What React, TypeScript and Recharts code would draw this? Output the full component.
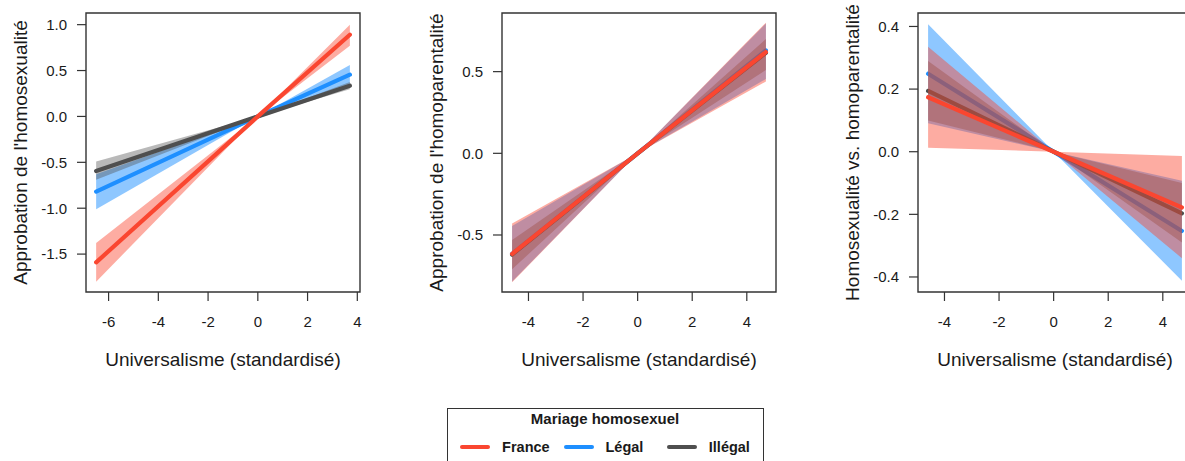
import React from 'react'
import {
  Area,
  ComposedChart,
  Label,
  Line,
  ReferenceArea,
  XAxis,
  YAxis,
} from 'recharts'

const FONT = '"Liberation Sans", Arial, Helvetica, sans-serif'
const RED = '#FA4630'
const BLUE = '#1E8FFF'
const GREY = '#4F4F4F'
const INK = '#1a1a1a'
const FRAME = '#333333'

// ---- panel 1 : Approbation de l'homosexualité
const p1X = [-6.5, 0, 3.7]
const p1France = [-1.59, 0, 0.89]
const p1FranceLo = [-1.8, 0, 0.77]
const p1FranceHi = [-1.38, 0, 1.0]
const p1Legal = [-0.82, 0, 0.455]
const p1LegalLo = [-1.01, 0, 0.35]
const p1LegalHi = [-0.63, 0, 0.56]
const p1Illegal = [-0.595, 0, 0.335]
const p1IllegalLo = [-0.69, 0, 0.295]
const p1IllegalHi = [-0.49, 0, 0.375]
const p1XTicks = [-6, -4, -2, 0, 2, 4]
const p1YTicks = [-1.5, -1, -0.5, 0, 0.5, 1]
const p1XLim = [-6.908, 4.108]
const p1YLim = [-1.913, 1.127]

// ---- panel 2 : Approbation de l'homoparentalité
const p2X = [-4.6, 0, 4.7]
const p2France = [-0.615, 0, 0.62]
const p2FranceLo = [-0.79, 0, 0.44]
const p2FranceHi = [-0.43, 0, 0.8]
const p2Legal = [-0.615, 0, 0.63]
const p2LegalLo = [-0.785, 0, 0.455]
const p2LegalHi = [-0.445, 0, 0.795]
const p2Illegal = [-0.62, 0, 0.615]
const p2IllegalLo = [-0.71, 0, 0.51]
const p2IllegalHi = [-0.53, 0, 0.7]
const p2XTicks = [-4, -2, 0, 2, 4]
const p2YTicks = [-0.5, 0, 0.5]
const p2XLim = [-4.97, 5.07]
const p2YLim = [-0.849, 0.859]

// ---- panel 3 : Homosexualité vs. homoparentalité
const p3X = [-4.6, 0, 4.7]
const p3France = [0.174, 0, -0.178]
const p3FranceLo = [0.013, 0, -0.34]
const p3FranceHi = [0.335, 0, -0.014]
const p3Legal = [0.249, 0, -0.253]
const p3LegalLo = [0.091, 0, -0.412]
const p3LegalHi = [0.407, 0, -0.093]
const p3Illegal = [0.194, 0, -0.197]
const p3IllegalLo = [0.1, 0, -0.29]
const p3IllegalHi = [0.29, 0, -0.1]
const p3XTicks = [-4, -2, 0, 2, 4]
const p3YTicks = [-0.4, -0.2, 0, 0.2, 0.4]
const p3XLim = [-4.97, 5.07]
const p3YLim = [-0.448, 0.443]

const legendItems = [
  { name: 'France', color: RED },
  { name: 'Légal', color: BLUE },
  { name: 'Illégal', color: GREY },
]

type Row = {
  x: number
  france: number
  franceBand: [number, number]
  legal: number
  legalBand: [number, number]
  illegal: number
  illegalBand: [number, number]
}

function buildRows(
  xs: number[],
  fr: number[], frLo: number[], frHi: number[],
  lg: number[], lgLo: number[], lgHi: number[],
  il: number[], ilLo: number[], ilHi: number[],
): Row[] {
  return xs.map((x, i) => ({
    x,
    france: fr[i],
    franceBand: [frLo[i], frHi[i]],
    legal: lg[i],
    legalBand: [lgLo[i], lgHi[i]],
    illegal: il[i],
    illegalBand: [ilLo[i], ilHi[i]],
  }))
}

const CHART_W = 370
const CHART_H = 380
const Y_AXIS_W = 86
const BOX_TOP = 13
const BOX_BOTTOM = 292
const BOX_W = 274

type PanelProps = {
  left: number
  rows: Row[]
  xLim: number[]
  yLim: number[]
  xTicks: number[]
  yTicks: number[]
  yTitle: string
}

function Panel({ left, rows, xLim, yLim, xTicks, yTicks, yTitle }: PanelProps) {
  const tick = { fontSize: 15, fill: INK, fontFamily: FONT }
  const midY = (BOX_TOP + BOX_BOTTOM) / 2
  const titleX = Y_AXIS_W - 59.5
  return (
    <div style={{ position: 'absolute', left, top: 0 }}>
      <ComposedChart
        width={CHART_W}
        height={CHART_H}
        data={rows}
        margin={{ top: BOX_TOP, right: CHART_W - Y_AXIS_W - BOX_W, bottom: 0, left: 0 }}
      >
        <XAxis
          dataKey="x"
          type="number"
          domain={xLim}
          ticks={xTicks}
          interval={0}
          allowDataOverflow
          axisLine={false}
          tickLine={{ stroke: FRAME, strokeWidth: 1.2 }}
          tickSize={9}
          tickMargin={15}
          tick={tick}
          height={CHART_H - BOX_BOTTOM}
        >
          <Label
            content={() => (
              <text
                x={Y_AXIS_W + BOX_W / 2}
                y={366}
                textAnchor="middle"
                fontSize={19}
                fill={INK}
                fontFamily={FONT}
              >
                Universalisme (standardisé)
              </text>
            )}
          />
        </XAxis>
        <YAxis
          type="number"
          domain={yLim}
          ticks={yTicks}
          interval={0}
          allowDataOverflow
          axisLine={false}
          tickLine={{ stroke: FRAME, strokeWidth: 1.2 }}
          tickSize={9}
          tickMargin={10}
          tick={tick}
          width={Y_AXIS_W}
          tickFormatter={(v: number) => v.toFixed(1)}
        >
          <Label
            content={() => (
              <text
                x={titleX}
                y={midY}
                transform={`rotate(-90 ${titleX} ${midY})`}
                textAnchor="middle"
                fontSize={19}
                fill={INK}
                fontFamily={FONT}
              >
                {yTitle}
              </text>
            )}
          />
        </YAxis>

        <Area dataKey="legalBand" type="linear" fill={BLUE} fillOpacity={0.5} stroke="none" isAnimationActive={false} zIndex={101} />
        <Line dataKey="legal" type="linear" stroke={BLUE} strokeWidth={4.2} strokeLinecap="round" dot={false} activeDot={false} isAnimationActive={false} zIndex={102} />
        <Area dataKey="illegalBand" type="linear" fill={GREY} fillOpacity={0.4} stroke="none" isAnimationActive={false} zIndex={103} />
        <Line dataKey="illegal" type="linear" stroke={GREY} strokeWidth={4.2} strokeLinecap="round" dot={false} activeDot={false} isAnimationActive={false} zIndex={104} />
        <Area dataKey="franceBand" type="linear" fill={RED} fillOpacity={0.45} stroke="none" isAnimationActive={false} zIndex={105} />
        <Line dataKey="france" type="linear" stroke={RED} strokeWidth={4.2} strokeLinecap="round" dot={false} activeDot={false} isAnimationActive={false} zIndex={106} />

        <ReferenceArea
          x1={xLim[0]}
          x2={xLim[1]}
          y1={yLim[0]}
          y2={yLim[1]}
          fill="none"
          stroke={FRAME}
          strokeWidth={1.4}
          fillOpacity={0}
          ifOverflow="visible"
          zIndex={200}
        />
      </ComposedChart>
    </div>
  )
}

function LegendBox() {
  const entryX = [12.6, 116, 219.3]
  return (
    <div
      style={{
        position: 'absolute',
        left: 446.5,
        top: 407.5,
        width: 317,
        height: 62,
        border: `1.4px solid ${FRAME}`,
        boxSizing: 'border-box',
        background: '#fff',
        fontFamily: FONT,
        color: INK,
        fontWeight: 'bold',
      }}
    >
      <div
        style={{
          position: 'absolute',
          left: 0,
          right: 0,
          top: 1.5,
          textAlign: 'center',
          fontSize: 15,
          lineHeight: '18px',
        }}
      >
        Mariage homosexuel
      </div>
      {legendItems.map((it, i) => (
        <div
          key={it.name}
          style={{
            position: 'absolute',
            left: entryX[i],
            top: 28,
            height: 20,
            display: 'flex',
            alignItems: 'center',
            fontSize: 14.5,
          }}
        >
          <span
            style={{
              display: 'inline-block',
              width: 30,
              height: 4,
              borderRadius: 2,
              background: it.color,
              marginRight: 12,
            }}
          />
          {it.name}
        </div>
      ))}
    </div>
  )
}

export default function App() {
  const rows1 = buildRows(p1X, p1France, p1FranceLo, p1FranceHi, p1Legal, p1LegalLo, p1LegalHi, p1Illegal, p1IllegalLo, p1IllegalHi)
  const rows2 = buildRows(p2X, p2France, p2FranceLo, p2FranceHi, p2Legal, p2LegalLo, p2LegalHi, p2Illegal, p2IllegalLo, p2IllegalHi)
  const rows3 = buildRows(p3X, p3France, p3FranceLo, p3FranceHi, p3Legal, p3LegalLo, p3LegalHi, p3Illegal, p3IllegalLo, p3IllegalHi)
  return (
    <div
      style={{
        position: 'absolute',
        left: 0,
        top: 0,
        width: 1185,
        height: 461,
        overflow: 'hidden',
        background: '#fff',
        fontFamily: FONT,
      }}
    >
      <Panel left={0} rows={rows1} xLim={p1XLim} yLim={p1YLim} xTicks={p1XTicks} yTicks={p1YTicks} yTitle="Approbation de l'homosexualité" />
      <Panel left={416.3} rows={rows2} xLim={p2XLim} yLim={p2YLim} xTicks={p2XTicks} yTicks={p2YTicks} yTitle="Approbation de l'homoparentalité" />
      <Panel left={832.3} rows={rows3} xLim={p3XLim} yLim={p3YLim} xTicks={p3XTicks} yTicks={p3YTicks} yTitle="Homosexualité vs. homoparentalité" />
      <LegendBox />
    </div>
  )
}
